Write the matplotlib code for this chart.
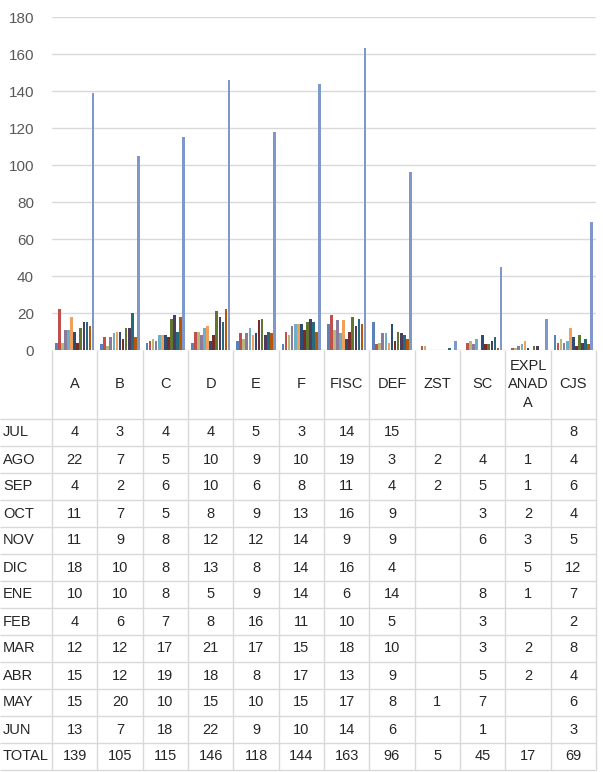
import numpy as np
from matplotlib import pyplot as plt
from matplotlib import font_manager

# categorias y series (None = celda en blanco)
categorias = ['A', 'B', 'C', 'D', 'E', 'F', 'FISC', 'DEF', 'ZST', 'SC', 'EXPL\nANAD\nA', 'CJS']
meses = ['JUL', 'AGO', 'SEP', 'OCT', 'NOV', 'DIC', 'ENE', 'FEB', 'MAR', 'ABR', 'MAY', 'JUN', 'TOTAL']

jul = [4, 3, 4, 4, 5, 3, 14, 15, None, None, None, 8]
ago = [22, 7, 5, 10, 9, 10, 19, 3, 2, 4, 1, 4]
sep = [4, 2, 6, 10, 6, 8, 11, 4, 2, 5, 1, 6]
oct_ = [11, 7, 5, 8, 9, 13, 16, 9, None, 3, 2, 4]
nov = [11, 9, 8, 12, 12, 14, 9, 9, None, 6, 3, 5]
dic = [18, 10, 8, 13, 8, 14, 16, 4, None, None, 5, 12]
ene = [10, 10, 8, 5, 9, 14, 6, 14, None, 8, 1, 7]
feb = [4, 6, 7, 8, 16, 11, 10, 5, None, 3, None, 2]
mar = [12, 12, 17, 21, 17, 15, 18, 10, None, 3, 2, 8]
abr = [15, 12, 19, 18, 8, 17, 13, 9, None, 5, 2, 4]
may = [15, 20, 10, 15, 10, 15, 17, 8, 1, 7, None, 6]
jun = [13, 7, 18, 22, 9, 10, 14, 6, None, 1, None, 3]
total = [139, 105, 115, 146, 118, 144, 163, 96, 5, 45, 17, 69]

series = [jul, ago, sep, oct_, nov, dic, ene, feb, mar, abr, may, jun, total]
colores = ['#5B82B8', '#C0504D', '#B8B77A', '#8A7A9C', '#6FAFC6', '#F0A05A',
           '#2C4D75', '#772C2A', '#5F7530', '#4D3B62', '#276A7C', '#B65708', '#7F98CC']

# fuente estrecha si existe
nombres = {f.name for f in font_manager.fontManager.ttflist}
fuente = 'Liberation Sans Narrow' if 'Liberation Sans Narrow' in nombres else 'Liberation Sans'
tam = 11 if fuente == 'Liberation Sans Narrow' else 10.5
plt.rcParams['font.family'] = ['Liberation Sans', 'DejaVu Sans']

fig = plt.figure(figsize=(6.03, 7.72), dpi=100)

# grafico de barras (posiciones en pixeles de la figura)
izq, der, arriba, cero = 52, 596, 17, 350
ax = fig.add_axes([izq / 603, 1 - cero / 772, (der - izq) / 603, (cero - arriba) / 772])
x = np.arange(len(categorias))
paso = 0.88 / len(series)
for i, vals in enumerate(series):
    v = [np.nan if val is None else val for val in vals]
    ax.bar(x - 0.44 + (i + 0.5) * paso, v, width=paso * 0.85, color=colores[i], zorder=2)

ax.set_xlim(-0.5, len(categorias) - 0.5)
ax.set_ylim(0, 180)
ax.set_yticks(range(0, 181, 20))
ax.yaxis.grid(True, color='#D9D9D9', linewidth=1)
ax.set_axisbelow(True)
ax.set_xticks([])
ax.tick_params(axis='y', length=0, labelsize=11, labelcolor='#595959', pad=13)
for s in ax.spines.values():
    s.set_visible(False)

# tabla de datos, dibujada en coordenadas de pixel
tax = fig.add_axes([0, 0, 1, 1])
tax.set_xlim(0, 603)
tax.set_ylim(772, 0)
tax.axis('off')

ancho = (der - izq) / len(categorias)
alto_cab = 69
alto_fila = 27
y_filas = cero + alto_cab
bordes_x = [izq + k * ancho for k in range(len(categorias) + 1)]
bordes_y = [y_filas + k * alto_fila for k in range(len(meses) + 1)]

tax.vlines(bordes_x, cero, bordes_y[-1], color='#D9D9D9', linewidth=1)
tax.hlines(bordes_y, 0, der, color='#D9D9D9', linewidth=1)

for j, cat in enumerate(categorias):
    tax.text(izq + (j + 0.5) * ancho, cero + alto_cab / 2, cat, ha='center', va='center',
             fontsize=tam, family=fuente, color='#262626', linespacing=1.4)

for r, (mes, vals) in enumerate(zip(meses, series)):
    yc = y_filas + (r + 0.5) * alto_fila
    tax.text(3, yc, mes, ha='left', va='center', fontsize=tam, family=fuente, color='#262626')
    for j, val in enumerate(vals):
        if val is None:
            continue
        tax.text(izq + (j + 0.5) * ancho, yc, str(val), ha='center', va='center',
                 fontsize=tam, family=fuente, color='#262626')

plt.savefig('out.png', dpi=100)
